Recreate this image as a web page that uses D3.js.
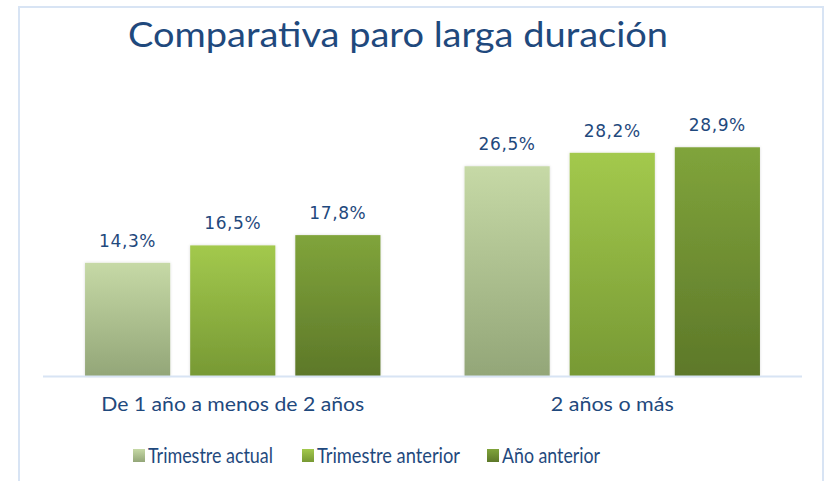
<!DOCTYPE html>
<html>
<head>
<meta charset="utf-8">
<script src="https://cdn.jsdelivr.net/npm/d3@7"></script>
<style>
  body { margin: 0; background: #fff; }
  svg { display: block; }
</style>
</head>
<body>
<div id="chart"></div>
<script>
const width = 825;
const height = 481;

// Data
const categories = ["De 1 año a menos de 2 años", "2 años o más"];
const series = ["Trimestre actual", "Trimestre anterior", "Año anterior"];
const trimestreActual = [14.3, 26.5];
const trimestreAnterior = [16.5, 28.2];
const anioAnterior = [17.8, 28.9];
const title = "Comparativa paro larga duración";

// Colors (top, bottom of each gradient)
const gradColors = [
    ["#c6d9a6", "#93a678"],
    ["#a3c94d", "#779934"],
    ["#80a43b", "#5d7829"]
];
const textBlue = "#1f497d";
const frameBlue = "#d8e4f4";
const font = "Lato, 'Open Sans', sans-serif";

const rows = categories.map(function (c, i) {
    return {cat: c, values: [trimestreActual[i], trimestreAnterior[i], anioAnterior[i]]};
});

// Scales
const x0 = d3.scaleBand().domain(categories).range([43, 802]);
const x1 = d3.scaleBand().domain(series).range([0, x0.bandwidth()])
    .paddingInner(0.19).paddingOuter(0.4);
const y = d3.scaleLinear().domain([0, 35]).range([376, 99]);

const svg = d3.select("#chart").append("svg")
    .attr("width", width)
    .attr("height", height);

svg.append("rect")
    .attr("width", width).attr("height", height)
    .attr("fill", "#fff");

// gradients
const defs = svg.append("defs");
gradColors.forEach(function (c, i) {
    const g = defs.append("linearGradient")
        .attr("id", "grad" + i)
        .attr("x1", 0).attr("y1", 0).attr("x2", 0).attr("y2", 1);
    g.append("stop").attr("offset", "0%").attr("stop-color", c[0]);
    g.append("stop").attr("offset", "100%").attr("stop-color", c[1]);
});
const shadow = defs.append("filter").attr("id", "shadow")
    .attr("x", "-10%").attr("y", "-10%").attr("width", "120%").attr("height", "120%");
shadow.append("feDropShadow")
    .attr("dx", 0).attr("dy", 0).attr("stdDeviation", 1.5)
    .attr("flood-color", "#000").attr("flood-opacity", 0.15);

// chart frame
svg.append("rect")
    .attr("x", 19).attr("y", 7)
    .attr("width", 804).attr("height", 490)
    .attr("fill", "none")
    .attr("stroke", frameBlue)
    .attr("stroke-width", 2);

// squeeze a text into the width it has in the original (narrow font there)
function squeeze(sel, target) {
    sel.attr("textLength", target).attr("lengthAdjust", "spacingAndGlyphs");
}

// title
const t = svg.append("text")
    .attr("x", 398).attr("y", 47)
    .attr("text-anchor", "middle")
    .attr("font-family", font)
    .attr("font-size", 35)
    .attr("fill", textBlue)
    .text(title);
squeeze(t, 540);

// bars
const groups = svg.selectAll(".group")
    .data(rows)
    .enter()
    .append("g")
    .attr("class", "group")
    .attr("transform", function (d) { return "translate(" + x0(d.cat) + ",0)"; });

groups.selectAll("rect")
    .data(function (d) { return d.values.map(function (v, i) { return {s: series[i], i: i, v: v}; }); })
    .enter()
    .append("rect")
    .attr("x", function (d) { return x1(d.s); })
    .attr("y", function (d) { return y(d.v); })
    .attr("width", x1.bandwidth())
    .attr("height", function (d) { return y(0) - y(d.v); })
    .attr("fill", function (d) { return "url(#grad" + d.i + ")"; })
    .attr("filter", "url(#shadow)");

groups.selectAll(".val")
    .data(function (d) { return d.values.map(function (v, i) { return {s: series[i], v: v}; }); })
    .enter()
    .append("text")
    .attr("class", "val")
    .attr("x", function (d) { return x1(d.s) + x1.bandwidth() / 2; })
    .attr("y", function (d) { return y(d.v) - 16; })
    .attr("text-anchor", "middle")
    .attr("font-family", "'DejaVu Sans', Verdana, sans-serif")
    .attr("font-size", 17)
    .attr("letter-spacing", 0.6)
    .attr("fill", textBlue)
    .text(function (d) { return d3.format(".1f")(d.v).replace(".", ",") + "%"; });

// baseline
svg.append("line")
    .attr("x1", 43).attr("x2", 802)
    .attr("y1", y(0) + 0.5).attr("y2", y(0) + 0.5)
    .attr("stroke", frameBlue)
    .attr("stroke-width", 2);

// category labels
const catWidths = [263, 123];
categories.forEach(function (c, i) {
    const lab = svg.append("text")
        .attr("x", x0(c) + x0.bandwidth() / 2)
        .attr("y", 411)
        .attr("text-anchor", "middle")
        .attr("font-family", font)
        .attr("font-size", 19.5)
        .attr("fill", textBlue)
        .text(c);
    squeeze(lab, catWidths[i]);
});

// legend
const legendX = [133, 302, 487];
const legendW = [125, 143, 98];
series.forEach(function (s, i) {
    svg.append("rect")
        .attr("x", legendX[i]).attr("y", 449)
        .attr("width", 12).attr("height", 13)
        .attr("fill", "url(#grad" + i + ")");
    const lt = svg.append("text")
        .attr("x", legendX[i] + 15).attr("y", 463)
        .attr("font-family", font)
        .attr("font-size", 22)
        .attr("fill", textBlue)
        .text(s);
    squeeze(lt, legendW[i]);
});
</script>
</body>
</html>
